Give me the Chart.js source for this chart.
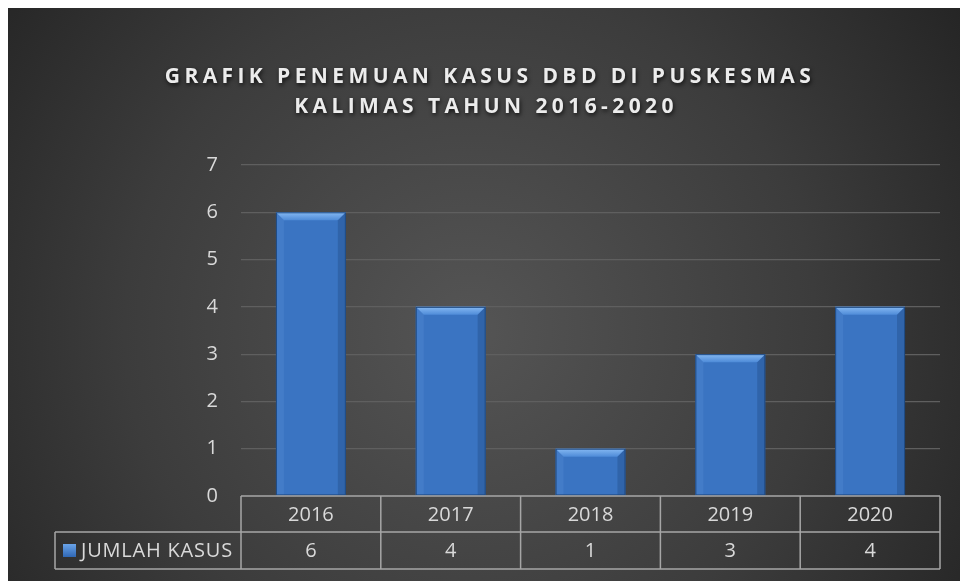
<!DOCTYPE html>
<html>
<head>
<meta charset="utf-8">
<script src="https://cdn.jsdelivr.net/npm/chart.js@4.4.1/dist/chart.umd.min.js"></script>
<style>
  html, body { margin: 0; padding: 0; background: #fff; }
  #wrap { width: 960px; height: 581px; }
</style>
</head>
<body>
<div id="wrap"><canvas id="myChart" width="960" height="581"></canvas></div>
<script>
const years = ['2016', '2017', '2018', '2019', '2020'];
const jumlahKasus = [6, 4, 1, 3, 4];
const seriesName = 'JUMLAH KASUS';
const titleLines = ['GRAFIK PENEMUAN KASUS DBD DI PUSKESMAS', 'KALIMAS TAHUN 2016-2020'];

const textColor = '#d9d9d9';
const lineColor = '#a6a6a6';

// background: white margin, dark radial panel
const bgPlugin = {
    id: 'bg',
    beforeDraw(chart) {
        const ctx = chart.ctx;
        ctx.save();
        ctx.fillStyle = '#ffffff';
        ctx.fillRect(0, 0, chart.width, chart.height);
        const g = ctx.createRadialGradient(470, 330, 10, 470, 330, 620);
        g.addColorStop(0, '#545454');
        g.addColorStop(0.55, '#3c3c3c');
        g.addColorStop(1, '#222222');
        ctx.fillStyle = g;
        ctx.fillRect(8, 8, chart.width - 8, chart.height - 8);
        ctx.restore();
    }
};

const titlePlugin = {
    id: 'fancyTitle',
    afterDraw(chart) {
        const ctx = chart.ctx;
        ctx.save();
        ctx.font = 'bold 21px "Open Sans"';
        ctx.letterSpacing = '4.4px';
        ctx.textAlign = 'center';
        ctx.textBaseline = 'middle';
        ctx.fillStyle = '#ececec';
        ctx.shadowColor = 'rgba(0,0,0,0.75)';
        ctx.shadowBlur = 4;
        ctx.shadowOffsetX = 1;
        ctx.shadowOffsetY = 2;
        ctx.fillText(titleLines[0], 490, 77);
        ctx.fillText(titleLines[1], 486, 107);
        ctx.restore();
    }
};

// bevel look on the bars
const bevelPlugin = {
    id: 'bevel',
    afterDatasetsDraw(chart) {
        const ctx = chart.ctx;
        const meta = chart.getDatasetMeta(0);
        ctx.save();
        meta.data.forEach(bar => {
            const l = bar.x - bar.width / 2;
            const r = bar.x + bar.width / 2;
            const t = bar.y;
            const b = bar.base;
            const d = 8;
            // top bevel
            const tg = ctx.createLinearGradient(0, t, 0, t + d);
            tg.addColorStop(0, '#86b9f2');
            tg.addColorStop(1, '#4e8bd8');
            ctx.fillStyle = tg;
            ctx.beginPath();
            ctx.moveTo(l, t); ctx.lineTo(r, t); ctx.lineTo(r - d, t + d); ctx.lineTo(l + d, t + d);
            ctx.closePath(); ctx.fill();
            // left side
            ctx.fillStyle = 'rgba(110,160,225,0.18)';
            ctx.beginPath();
            ctx.moveTo(l, t); ctx.lineTo(l + d, t + d); ctx.lineTo(l + d, b); ctx.lineTo(l, b);
            ctx.closePath(); ctx.fill();
            // right side
            ctx.fillStyle = 'rgba(20,50,100,0.25)';
            ctx.beginPath();
            ctx.moveTo(r, t); ctx.lineTo(r - d, t + d); ctx.lineTo(r - d, b); ctx.lineTo(r, b);
            ctx.closePath(); ctx.fill();
            ctx.strokeStyle = '#1f4a82';
            ctx.lineWidth = 1;
            ctx.strokeRect(l + 0.5, t + 0.5, r - l - 1, b - t - 1);
        });
        ctx.restore();
    }
};

// data table under the plot
const tablePlugin = {
    id: 'dataTable',
    afterDraw(chart) {
        const ctx = chart.ctx;
        const x = chart.scales.x;
        const area = chart.chartArea;
        const step = (area.right - area.left) / years.length;
        const y0 = area.bottom;
        const y1 = y0 + 36;
        const y2 = y1 + 37;
        const legL = 55;
        ctx.save();
        ctx.strokeStyle = lineColor;
        ctx.lineWidth = 1.5;
        ctx.beginPath();
        ctx.moveTo(area.left, y0); ctx.lineTo(area.right, y0);
        ctx.moveTo(legL, y1); ctx.lineTo(area.right, y1);
        ctx.moveTo(legL, y2); ctx.lineTo(area.right, y2);
        ctx.moveTo(legL, y1); ctx.lineTo(legL, y2);
        for (let i = 0; i <= years.length; i++) {
            const px = area.left + i * step;
            ctx.moveTo(px, y0); ctx.lineTo(px, y2);
        }
        ctx.stroke();

        ctx.fillStyle = textColor;
        ctx.font = '20px "Open Sans"';
        ctx.textAlign = 'center';
        ctx.textBaseline = 'middle';
        years.forEach((yr, i) => {
            const cx = x.getPixelForValue(i);
            ctx.fillText(yr, cx, (y0 + y1) / 2 + 1);
            ctx.fillText(String(jumlahKasus[i]), cx, (y1 + y2) / 2 + 1);
        });

        // legend key
        const kg = ctx.createLinearGradient(0, y1 + 11, 0, y1 + 25);
        kg.addColorStop(0, '#6ea8ec');
        kg.addColorStop(1, '#2f67b4');
        ctx.fillStyle = kg;
        ctx.fillRect(63, y1 + 12, 13, 13);
        ctx.fillStyle = textColor;
        ctx.textAlign = 'left';
        ctx.font = '20px "Open Sans"';
        ctx.letterSpacing = '0.8px';
        ctx.fillText(seriesName, 81, (y1 + y2) / 2 + 1);
        ctx.restore();
    }
};

const data = {
    labels: years,
    datasets: [{
        label: seriesName,
        data: jumlahKasus,
        backgroundColor: '#3a74c2',
        borderWidth: 0,
        barPercentage: 0.5,
        categoryPercentage: 1
    }]
};

const config = {
    type: 'bar',
    data,
    options: {
        responsive: false,
        animation: false,
        layout: { padding: { top: 165, bottom: 85, right: 20, left: 0 } },
        plugins: {
            legend: { display: false },
            title: { display: false },
            tooltip: { enabled: false }
        },
        scales: {
            x: {
                display: false,
                grid: { display: false }
            },
            y: {
                min: 0,
                max: 7,
                ticks: {
                    stepSize: 1,
                    color: textColor,
                    font: { family: 'Open Sans', size: 20 },
                    padding: 23
                },
                border: { display: false },
                grid: {
                    color: ctx => ctx.tick && ctx.tick.value === 0 ? 'rgba(0,0,0,0)' : '#5f5f5f',
                    lineWidth: 1.2,
                    drawTicks: false
                },
                afterFit: scale => { scale.width = 241; }
            }
        }
    },
    plugins: [bgPlugin, bevelPlugin, tablePlugin, titlePlugin]
};

const myChart = new Chart(document.getElementById('myChart'), config);
</script>
</body>
</html>
